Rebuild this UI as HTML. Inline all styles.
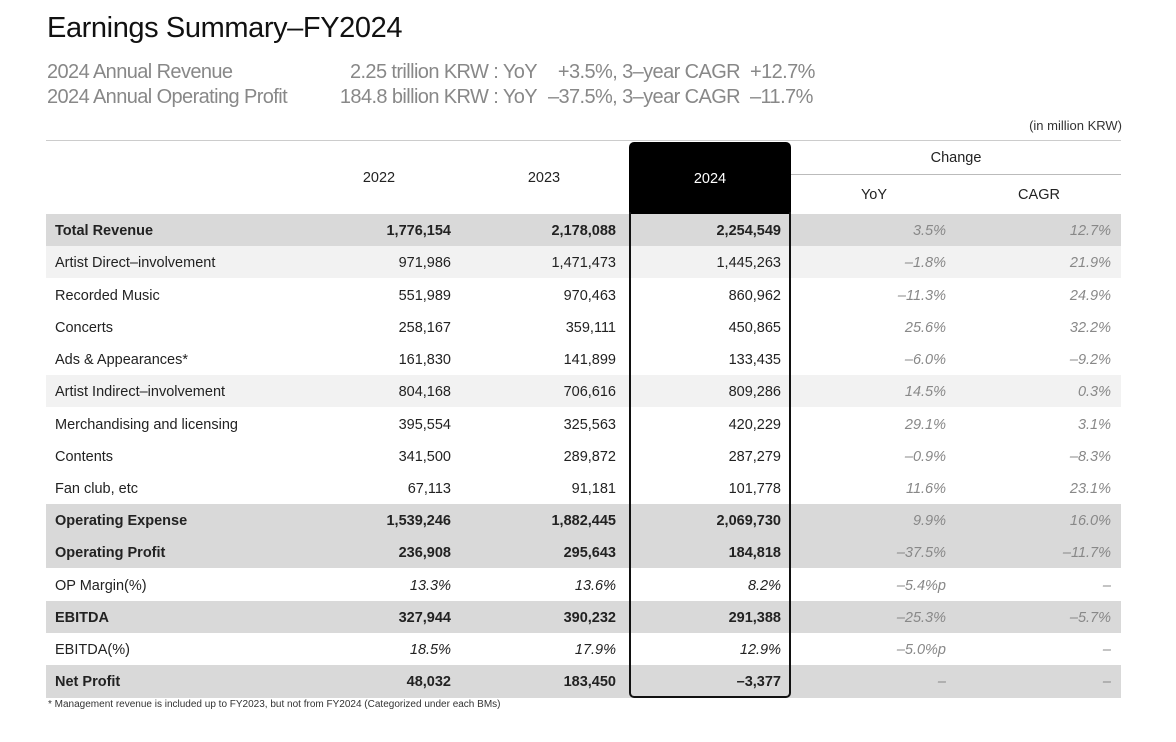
<!DOCTYPE html>
<html><head><meta charset="utf-8"><style>
body{margin:0;width:1176px;height:742px;background:#fff;font-family:"Liberation Sans",sans-serif;position:relative;overflow:hidden}
.a{position:absolute;white-space:nowrap}
.sub{font-size:20px;color:#888;line-height:25px;letter-spacing:-0.6px}
.row{position:absolute;left:46px;width:1075px;height:32px;font-size:14.5px;color:#222}
.row div{position:absolute;top:0;line-height:35px}
.l{left:9px}
.c1{right:670px}.c2{right:505px}.c3{right:340px}.c4{right:175px}.c5{right:10px}
.c4,.c5{font-style:italic;color:#888}
.d{background:#d9d9d9;font-weight:bold}
.d .c4,.d .c5{font-weight:normal}
.g{background:#f2f2f2}
.it .c1,.it .c2,.it .c3{font-style:italic}
</style></head><body>
<div class="a" style="left:47px;top:12px;font-size:29px;color:#111;letter-spacing:-0.4px">Earnings Summary–FY2024</div>
<div class="a sub" style="left:47px;top:60px">2024 Annual Revenue<br>2024 Annual Operating Profit</div>
<div class="a sub" style="left:287px;top:60px;text-align:right;width:250px">2.25 trillion KRW : YoY<br>184.8 billion KRW : YoY</div>
<div class="a sub" style="left:490px;top:60px;text-align:right;width:250px">+3.5%, 3–year CAGR<br>–37.5%, 3–year CAGR</div>
<div class="a sub" style="left:750px;top:60px">+12.7%<br>–11.7%</div>
<div class="a" style="right:54px;top:118px;font-size:13px;color:#333">(in million KRW)</div>
<div class="a" style="left:46px;top:140px;width:1075px;height:1px;background:#ccc"></div>
<div class="a" style="left:791px;top:174px;width:330px;height:1px;background:#bbb"></div>
<div class="a" style="left:629px;top:142px;width:162px;height:72px;background:#000;border-radius:5px 5px 0 0"></div>
<div class="a" style="left:379px;top:170px;font-size:14.5px;color:#222;transform:translateX(-50%)">2022</div>
<div class="a" style="left:544px;top:170px;font-size:14.5px;color:#222;transform:translateX(-50%)">2023</div>
<div class="a" style="left:710px;top:171px;font-size:14.5px;color:#fff;transform:translateX(-50%)">2024</div>
<div class="a" style="left:956px;top:150px;font-size:14.5px;color:#222;transform:translateX(-50%)">Change</div>
<div class="a" style="left:874px;top:187px;font-size:14.5px;color:#222;transform:translateX(-50%)">YoY</div>
<div class="a" style="left:1039px;top:187px;font-size:14.5px;color:#222;transform:translateX(-50%)">CAGR</div>

<div class="row d" style="top:214px"><div class="l">Total Revenue</div><div class="c1">1,776,154</div><div class="c2">2,178,088</div><div class="c3">2,254,549</div><div class="c4">3.5%</div><div class="c5">12.7%</div></div>
<div class="row g" style="top:246px"><div class="l">Artist Direct–involvement</div><div class="c1">971,986</div><div class="c2">1,471,473</div><div class="c3">1,445,263</div><div class="c4">–1.8%</div><div class="c5">21.9%</div></div>
<div class="row" style="top:279px"><div class="l">Recorded Music</div><div class="c1">551,989</div><div class="c2">970,463</div><div class="c3">860,962</div><div class="c4">–11.3%</div><div class="c5">24.9%</div></div>
<div class="row" style="top:311px"><div class="l">Concerts</div><div class="c1">258,167</div><div class="c2">359,111</div><div class="c3">450,865</div><div class="c4">25.6%</div><div class="c5">32.2%</div></div>
<div class="row" style="top:343px"><div class="l">Ads &amp; Appearances*</div><div class="c1">161,830</div><div class="c2">141,899</div><div class="c3">133,435</div><div class="c4">–6.0%</div><div class="c5">–9.2%</div></div>
<div class="row g" style="top:375px"><div class="l">Artist Indirect–involvement</div><div class="c1">804,168</div><div class="c2">706,616</div><div class="c3">809,286</div><div class="c4">14.5%</div><div class="c5">0.3%</div></div>
<div class="row" style="top:408px"><div class="l">Merchandising and licensing</div><div class="c1">395,554</div><div class="c2">325,563</div><div class="c3">420,229</div><div class="c4">29.1%</div><div class="c5">3.1%</div></div>
<div class="row" style="top:440px"><div class="l">Contents</div><div class="c1">341,500</div><div class="c2">289,872</div><div class="c3">287,279</div><div class="c4">–0.9%</div><div class="c5">–8.3%</div></div>
<div class="row" style="top:472px"><div class="l">Fan club, etc</div><div class="c1">67,113</div><div class="c2">91,181</div><div class="c3">101,778</div><div class="c4">11.6%</div><div class="c5">23.1%</div></div>
<div class="row d" style="top:504px"><div class="l">Operating Expense</div><div class="c1">1,539,246</div><div class="c2">1,882,445</div><div class="c3">2,069,730</div><div class="c4">9.9%</div><div class="c5">16.0%</div></div>
<div class="row d" style="top:536px"><div class="l">Operating Profit</div><div class="c1">236,908</div><div class="c2">295,643</div><div class="c3">184,818</div><div class="c4">–37.5%</div><div class="c5">–11.7%</div></div>
<div class="row it" style="top:569px"><div class="l">OP Margin(%)</div><div class="c1">13.3%</div><div class="c2">13.6%</div><div class="c3">8.2%</div><div class="c4">–5.4%p</div><div class="c5">–</div></div>
<div class="row d" style="top:601px"><div class="l">EBITDA</div><div class="c1">327,944</div><div class="c2">390,232</div><div class="c3">291,388</div><div class="c4">–25.3%</div><div class="c5">–5.7%</div></div>
<div class="row it" style="top:633px"><div class="l">EBITDA(%)</div><div class="c1">18.5%</div><div class="c2">17.9%</div><div class="c3">12.9%</div><div class="c4">–5.0%p</div><div class="c5">–</div></div>
<div class="row d" style="top:665px;height:33px"><div class="l">Net Profit</div><div class="c1">48,032</div><div class="c2">183,450</div><div class="c3">–3,377</div><div class="c4">–</div><div class="c5">–</div></div>

<div class="a" style="left:629px;top:212px;width:158px;height:484px;border:2px solid #111;border-top:none;border-radius:0 0 5px 5px"></div>
<div class="a" style="left:48px;top:699px;font-size:10px;color:#333">* Management revenue is included up to FY2023, but not from FY2024 (Categorized under each BMs)</div>
</body></html>
